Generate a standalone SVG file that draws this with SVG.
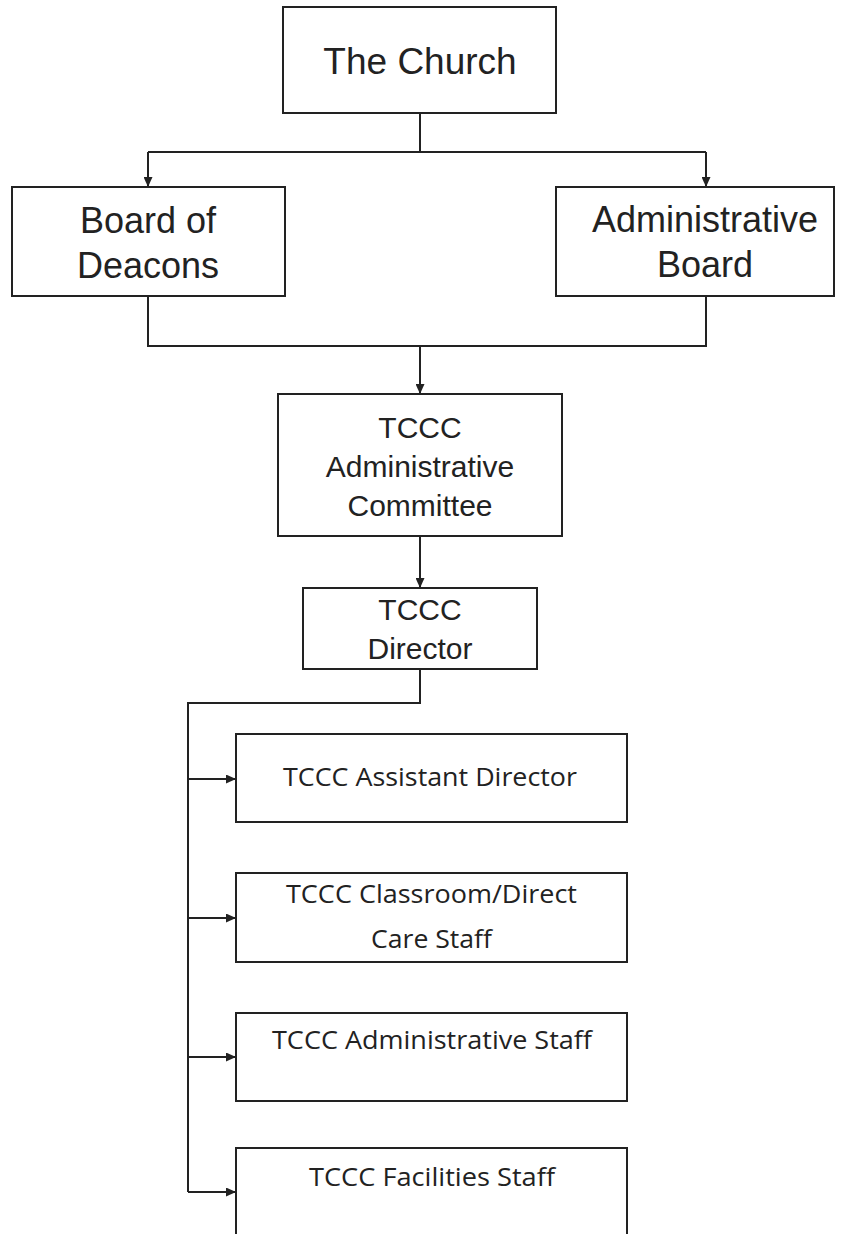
<svg xmlns="http://www.w3.org/2000/svg" width="844" height="1234" viewBox="0 0 844 1234">
<defs>
<style>
.box{fill:#fff;stroke:#222;stroke-width:2}
.con{fill:none;stroke:#222;stroke-width:2}
.a{font-family:"Liberation Sans",Arial,sans-serif;fill:#222;text-anchor:middle}
.c{font-family:"Open Sans","Lato",sans-serif;fill:#222;font-size:26px}
</style>
<marker id="arr" markerUnits="userSpaceOnUse" markerWidth="10" markerHeight="9" refX="10" refY="4.5" orient="auto">
<path d="M0,0 L10,4.5 L0,9 z" fill="#222"/>
</marker>
</defs>
<rect width="844" height="1234" fill="#fff"/>
<g id="connectors">
<path class="con" d="M420,113 V152"/>
<path class="con" d="M148,152 H706"/>
<path class="con" d="M148,152 V187" marker-end="url(#arr)"/>
<path class="con" d="M706,152 V187" marker-end="url(#arr)"/>
<path class="con" d="M148,296 V346 H706 V296"/>
<path class="con" d="M420,346 V394" marker-end="url(#arr)"/>
<path class="con" d="M420,536 V588" marker-end="url(#arr)"/>
<path class="con" d="M420,669 V703 H188 V1192"/>
<path class="con" d="M188,779 H236" marker-end="url(#arr)"/>
<path class="con" d="M188,918 H236" marker-end="url(#arr)"/>
<path class="con" d="M188,1057 H236" marker-end="url(#arr)"/>
<path class="con" d="M188,1192 H236" marker-end="url(#arr)"/>
</g>
<g id="church">
<rect class="box" x="283" y="7" width="273" height="106"/>
<text class="a" x="420" y="74" font-size="37">The Church</text>
</g>
<g id="deacons">
<rect class="box" x="12" y="187" width="273" height="109"/>
<text class="a" x="148" y="233" font-size="36">Board of</text>
<text class="a" x="148" y="278" font-size="36">Deacons</text>
</g>
<g id="adminboard">
<rect class="box" x="556" y="187" width="278" height="109"/>
<text class="a" x="705" y="232" font-size="36">Administrative</text>
<text class="a" x="705" y="277" font-size="36">Board</text>
</g>
<g id="committee">
<rect class="box" x="278" y="394" width="284" height="142"/>
<text class="a" x="420" y="438" font-size="30">TCCC</text>
<text class="a" x="420" y="477" font-size="30">Administrative</text>
<text class="a" x="420" y="516" font-size="30">Committee</text>
</g>
<g id="director">
<rect class="box" x="303" y="588" width="234" height="81"/>
<text class="a" x="420" y="620" font-size="30">TCCC</text>
<text class="a" x="420" y="659" font-size="30">Director</text>
</g>
<g id="assistant">
<rect class="box" x="236" y="734" width="391" height="88"/>
<text class="c" x="283" y="786" textLength="294" lengthAdjust="spacingAndGlyphs">TCCC Assistant Director</text>
</g>
<g id="classroom">
<rect class="box" x="236" y="873" width="391" height="89"/>
<text class="c" x="286" y="903" textLength="291" lengthAdjust="spacingAndGlyphs">TCCC Classroom/Direct</text>
<text class="c" x="371" y="948" textLength="121" lengthAdjust="spacingAndGlyphs">Care Staff</text>
</g>
<g id="adminstaff">
<rect class="box" x="236" y="1013" width="391" height="88"/>
<text class="c" x="272" y="1049" textLength="320" lengthAdjust="spacingAndGlyphs">TCCC Administrative Staff</text>
</g>
<g id="facilities">
<rect class="box" x="236" y="1148" width="391" height="100"/>
<text class="c" x="309" y="1186" textLength="246" lengthAdjust="spacingAndGlyphs">TCCC Facilities Staff</text>
</g>
</svg>
